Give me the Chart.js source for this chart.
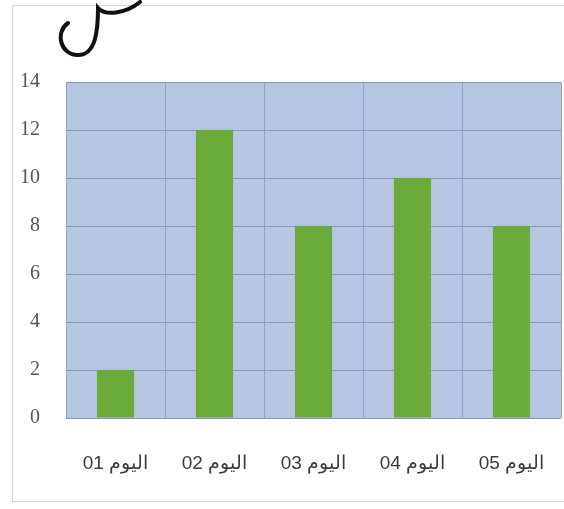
<!DOCTYPE html>
<html>
<head>
<meta charset="utf-8">
<script src="https://cdn.jsdelivr.net/npm/chart.js@4"></script>
<style>
  html, body { margin: 0; background: #fff; overflow: hidden; }
  #frame { position: absolute; left: 12px; top: 5px; width: 552px; height: 497px; border: 1px solid #d6d6d6; border-right: none; box-sizing: border-box; }
  #myChart { position: absolute; left: 0; top: 0; }
</style>
</head>
<body>
<div id="frame"></div>
<canvas id="myChart" dir="rtl" width="564" height="509"></canvas>
<script>
// data
let days = ['اليوم 01', 'اليوم 02', 'اليوم 03', 'اليوم 04', 'اليوم 05'];
let values = [2, 12, 8, 10, 8];
let yTicks = [0, 2, 4, 6, 8, 10, 12, 14];

// blue plot background
const plotBg = {
  id: 'plotBg',
  beforeDraw(chart) {
    const a = chart.chartArea, ctx = chart.ctx;
    ctx.save();
    ctx.fillStyle = '#b6c5e2';
    ctx.fillRect(a.left, a.top, a.right - a.left, a.bottom - a.top);
    ctx.restore();
  }
};

// hand drawn stroke on top
const scribble = {
  id: 'scribble',
  afterDraw(chart) {
    const ctx = chart.ctx;
    ctx.save();
    ctx.strokeStyle = '#111';
    ctx.lineWidth = 4;
    ctx.lineCap = 'round';
    ctx.beginPath();
    ctx.moveTo(68, 23);
    ctx.bezierCurveTo(55, 32, 60, 55, 78, 55);
    ctx.bezierCurveTo(96, 55, 98, 30, 98, 8);
    ctx.bezierCurveTo(105, 16, 125, 14, 140, 2);
    ctx.stroke();
    ctx.restore();
  }
};

const ThisChart = document.getElementById('myChart');
new Chart(ThisChart, {
  type: 'bar',
  data: {
    labels: days,
    datasets: [{
      data: values,
      backgroundColor: '#6aab3a',
      borderWidth: 0,
      barPercentage: 0.375,
      categoryPercentage: 1
    }]
  },
  options: {
    responsive: false,
    animation: false,
    devicePixelRatio: 1,
    layout: { padding: { top: 82, left: 14, right: 3, bottom: 34 } },
    plugins: { legend: { display: false }, tooltip: { enabled: false } },
    scales: {
      x: {
        grid: { color: '#93a4c6', drawTicks: false },
        border: { display: false },
        afterFit(axis) { axis.height = 57; axis.paddingRight = 0; axis.paddingLeft = 0; },
        ticks: { color: '#3a3a3a', font: { family: 'Liberation Sans', size: 19 }, padding: 34, maxRotation: 0 }
      },
      y: {
        min: 0, max: 14,
        afterBuildTicks(axis) { axis.ticks = yTicks.map(v => ({ value: v })); },
        afterFit(axis) { axis.width = 52; },
        grid: { color: '#8798bb', drawTicks: false },
        border: { display: false },
        ticks: { color: '#555', font: { family: 'Liberation Serif', size: 20 }, padding: 26 }
      }
    }
  },
  plugins: [plotBg, scribble]
});
</script>
</body>
</html>
